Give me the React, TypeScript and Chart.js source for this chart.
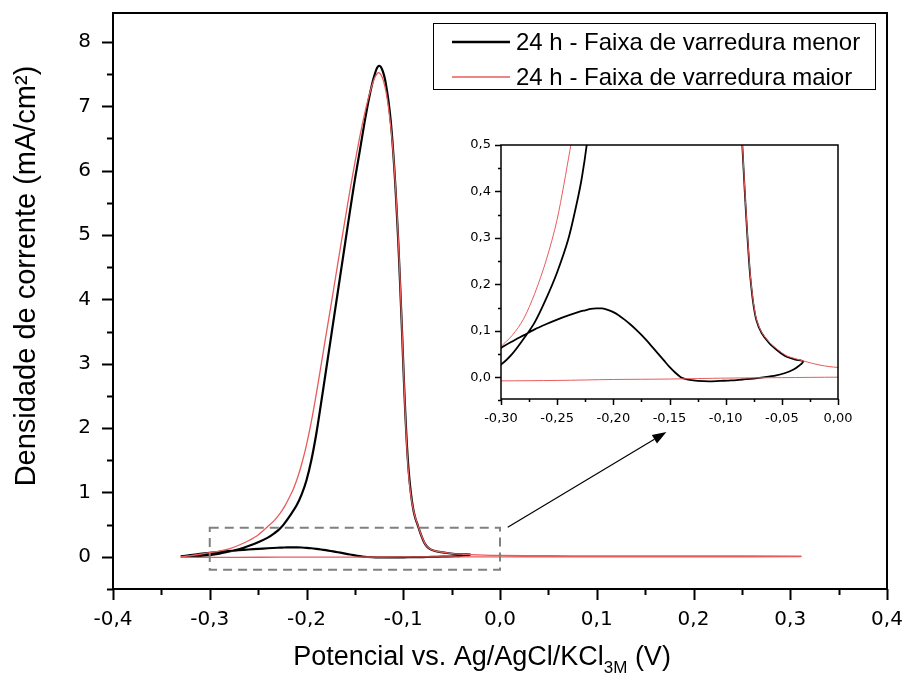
import React, { useEffect, useRef } from 'react';
import { Chart, registerables } from 'chart.js';

Chart.register(...registerables);

// ---------- Data ----------
const LABEL_MENOR = '24 h - Faixa de varredura menor';
const LABEL_MAIOR = '24 h - Faixa de varredura maior';

// Black curve (smaller sweep window): peak branch, then return branch (closed loop)
const blackX = [
  -0.330, -0.320, -0.310, -0.300, -0.290, -0.280, -0.270, -0.260, -0.250, -0.240,
  -0.2326, -0.228, -0.2237, -0.217, -0.2102, -0.205, -0.200, -0.195, -0.190, -0.185,
  -0.180, -0.175, -0.170, -0.165, -0.160, -0.155, -0.150, -0.145, -0.140, -0.136,
  -0.132, -0.129, -0.127, -0.125, -0.123, -0.121, -0.119, -0.117, -0.115, -0.113,
  -0.111, -0.109, -0.107, -0.105, -0.103, -0.101, -0.099, -0.0968, -0.0945, -0.0922,
  -0.0898, -0.0875, -0.0852, -0.083, -0.081, -0.0792, -0.0778, -0.0755, -0.0727, -0.068,
  -0.061, -0.053, -0.0457, -0.038, -0.031,
  -0.035, -0.040, -0.047, -0.055, -0.065, -0.075, -0.085, -0.095, -0.105, -0.115,
  -0.125, -0.132, -0.137, -0.140, -0.145, -0.150, -0.155, -0.160, -0.165, -0.170,
  -0.175, -0.180, -0.185, -0.190, -0.195, -0.200, -0.205, -0.210, -0.215, -0.220,
  -0.225, -0.230, -0.240, -0.250, -0.260, -0.270, -0.280, -0.290, -0.300, -0.310,
  -0.320, -0.330,
];
const blackY = [
  0.003, 0.008, 0.015, 0.027, 0.050, 0.082, 0.118, 0.168, 0.226, 0.298,
  0.374, 0.430, 0.50, 0.64, 0.80, 0.97, 1.19, 1.50, 1.90, 2.38,
  2.88, 3.38, 3.88, 4.38, 4.88, 5.38, 5.86, 6.30, 6.75, 7.08,
  7.36, 7.52, 7.60, 7.63, 7.61, 7.54, 7.43, 7.26, 7.05, 6.78,
  6.42, 5.98, 5.45, 4.85, 4.15, 3.40, 2.62, 1.90, 1.35, 1.00,
  0.75, 0.60, 0.50, 0.40, 0.317, 0.25, 0.209, 0.16, 0.123, 0.095,
  0.073, 0.056, 0.044, 0.038, 0.034,
  0.024, 0.016, 0.009, 0.004, 0.000, -0.003, -0.005, -0.007, -0.008, -0.009,
  -0.008, -0.006, -0.003, 0.000, 0.010, 0.022, 0.036, 0.050, 0.064, 0.078,
  0.091, 0.103, 0.114, 0.124, 0.133, 0.140, 0.145, 0.148, 0.148, 0.147,
  0.144, 0.141, 0.133, 0.124, 0.114, 0.103, 0.090, 0.077, 0.063, 0.046,
  0.026, 0.006,
];

// Red curve (larger sweep window)
const redX = [
  -0.330, -0.320, -0.310, -0.300, -0.290, -0.280, -0.270, -0.260, -0.250, -0.2386,
  -0.233, -0.2275, -0.222, -0.2175, -0.2137, -0.209, -0.2045, -0.200, -0.195, -0.190,
  -0.185, -0.180, -0.175, -0.170, -0.165, -0.160, -0.155, -0.150, -0.145, -0.140,
  -0.136, -0.132, -0.129, -0.126, -0.124, -0.122, -0.120, -0.118, -0.116, -0.114,
  -0.112, -0.110, -0.108, -0.106, -0.104, -0.102, -0.100, -0.098, -0.096, -0.094,
  -0.0918, -0.0895, -0.0873, -0.0851, -0.0829, -0.0809, -0.0791, -0.0777, -0.0754, -0.0726,
  -0.068, -0.061, -0.053, -0.0457, -0.038, -0.031, -0.016, 0.000, 0.050, 0.100,
  0.200, 0.311,
  0.311, 0.200, 0.100, 0.000, -0.050, -0.100, -0.150, -0.200, -0.250, -0.300, -0.330,
];
const redY = [
  0.000, 0.018, 0.040, 0.066, 0.090, 0.125, 0.180, 0.250, 0.340, 0.489,
  0.57, 0.67, 0.80, 0.93, 1.05, 1.24, 1.47, 1.74, 2.10, 2.52,
  2.97, 3.43, 3.88, 4.34, 4.80, 5.25, 5.70, 6.12, 6.52, 6.88,
  7.13, 7.34, 7.46, 7.52, 7.51, 7.46, 7.37, 7.24, 7.06, 6.83,
  6.55, 6.20, 5.75, 5.20, 4.55, 3.80, 3.02, 2.25, 1.62, 1.20,
  0.92, 0.73, 0.60, 0.50, 0.40, 0.318, 0.252, 0.21, 0.162, 0.125,
  0.097, 0.075, 0.058, 0.046, 0.040, 0.035, 0.026, 0.021, 0.017, 0.015,
  0.013, 0.012,
  0.002, 0.001, 0.000, 0.000, -0.001, -0.002, -0.004, -0.005, -0.007, -0.008, -0.008,
];

// Tick values
const mainXTicks = [-0.4, -0.3, -0.2, -0.1, 0.0, 0.1, 0.2, 0.3, 0.4];
const mainXMinor = [-0.35, -0.25, -0.15, -0.05, 0.05, 0.15, 0.25, 0.35];
const mainYTicks = [0, 1, 2, 3, 4, 5, 6, 7, 8];
const mainYMinor = [-0.5, 0.5, 1.5, 2.5, 3.5, 4.5, 5.5, 6.5, 7.5];
const insetXTicks = [-0.30, -0.25, -0.20, -0.15, -0.10, -0.05, 0.00];
const insetXMinor = [-0.275, -0.225, -0.175, -0.125, -0.075, -0.025];
const insetYTicks = [0.0, 0.1, 0.2, 0.3, 0.4, 0.5];
const insetYMinor = [-0.05, 0.05, 0.15, 0.25, 0.35, 0.45];

// Zoom window (data coords) and arrow (data coords)
const zoomBoxX = [-0.3, 0.0];
const zoomBoxY = [-0.2, 0.45];
const arrowFrom = [0.008, 0.46];
const arrowTo = [0.172, 1.94];

const BLACK = '#000000';
const RED = 'rgb(232, 92, 92)';

const toPts = (xs: number[], ys: number[]) => xs.map((x, i) => ({ x, y: ys[i] }));
const fmt = (v: number, d: number) => {
  const s = Math.abs(v) < 1e-9 ? (0).toFixed(d) : v.toFixed(d);
  return s.replace('.', ',');
};
const noPad = (s: any) => {
  s.paddingTop = 0;
  s.paddingBottom = 0;
  s.paddingLeft = 0;
  s.paddingRight = 0;
};

function drawTickMarks(ctx: CanvasRenderingContext2D, chart: any, o: any) {
  const { left, bottom } = chart.chartArea;
  const xs = chart.scales.x;
  const ys = chart.scales.y;
  ctx.save();
  ctx.strokeStyle = '#000';
  ctx.lineWidth = o.lw;
  ctx.beginPath();
  o.xMajor.forEach((v: number) => {
    const p = Math.round(xs.getPixelForValue(v)) + 0.5;
    ctx.moveTo(p, bottom);
    ctx.lineTo(p, bottom + o.majorLen);
  });
  o.xMinor.forEach((v: number) => {
    const p = Math.round(xs.getPixelForValue(v)) + 0.5;
    ctx.moveTo(p, bottom);
    ctx.lineTo(p, bottom + o.minorLen);
  });
  o.yMajor.forEach((v: number) => {
    const p = Math.round(ys.getPixelForValue(v)) + 0.5;
    ctx.moveTo(left, p);
    ctx.lineTo(left - o.majorLen, p);
  });
  o.yMinor.forEach((v: number) => {
    const p = Math.round(ys.getPixelForValue(v)) + 0.5;
    ctx.moveTo(left, p);
    ctx.lineTo(left - o.minorLen, p);
  });
  ctx.stroke();
  const ca = chart.chartArea;
  ctx.lineWidth = o.frameLw;
  ctx.strokeRect(ca.left, ca.top, ca.right - ca.left, ca.bottom - ca.top);
  ctx.restore();
}

const mainDecor = {
  id: 'mainDecor',
  afterDatasetsDraw(chart: any) {
    const ctx = chart.ctx as CanvasRenderingContext2D;
    const xs = chart.scales.x;
    const ys = chart.scales.y;
    const ca = chart.chartArea;
    // zoom box
    ctx.save();
    ctx.strokeStyle = '#808080';
    ctx.lineWidth = 2;
    ctx.setLineDash([9, 6]);
    const x0 = xs.getPixelForValue(zoomBoxX[0]);
    const x1 = xs.getPixelForValue(zoomBoxX[1]);
    const y0 = ys.getPixelForValue(zoomBoxY[1]);
    const y1 = ys.getPixelForValue(zoomBoxY[0]);
    ctx.strokeRect(x0, y0, x1 - x0, y1 - y0);
    ctx.restore();
    // arrow
    const ax0 = xs.getPixelForValue(arrowFrom[0]);
    const ay0 = ys.getPixelForValue(arrowFrom[1]);
    const ax1 = xs.getPixelForValue(arrowTo[0]);
    const ay1 = ys.getPixelForValue(arrowTo[1]);
    const ang = Math.atan2(ay1 - ay0, ax1 - ax0);
    const hl = 14, hw = 5;
    const bx = ax1 - hl * Math.cos(ang);
    const by = ay1 - hl * Math.sin(ang);
    ctx.save();
    ctx.strokeStyle = '#000';
    ctx.fillStyle = '#000';
    ctx.lineWidth = 1.2;
    ctx.beginPath();
    ctx.moveTo(ax0, ay0);
    ctx.lineTo(bx, by);
    ctx.stroke();
    ctx.beginPath();
    ctx.moveTo(ax1, ay1);
    ctx.lineTo(bx + hw * Math.sin(ang), by - hw * Math.cos(ang));
    ctx.lineTo(bx - hw * Math.sin(ang), by + hw * Math.cos(ang));
    ctx.closePath();
    ctx.fill();
    ctx.restore();

    drawTickMarks(ctx, chart, {
      xMajor: mainXTicks, xMinor: mainXMinor, yMajor: mainYTicks, yMinor: mainYMinor,
      majorLen: 11, minorLen: 6, lw: 2, frameLw: 2,
    });

    // legend
    const lx0 = ca.right - 454;
    const lx1 = ca.right - 12;
    const ly0 = ca.top + 10;
    const ly1 = ca.top + 76;
    ctx.save();
    ctx.fillStyle = '#fff';
    ctx.fillRect(lx0, ly0, lx1 - lx0, ly1 - ly0);
    ctx.strokeStyle = '#000';
    ctx.lineWidth = 1;
    ctx.strokeRect(Math.round(lx0) + 0.5, Math.round(ly0) + 0.5, lx1 - lx0, ly1 - ly0);
    const items = [
      { label: chart.data.datasets[1].label, color: BLACK, w: 2.6 },
      { label: chart.data.datasets[0].label, color: RED, w: 1.3 },
    ];
    ctx.font = '24px "Liberation Sans", Arial, sans-serif';
    ctx.textBaseline = 'middle';
    items.forEach((it, i) => {
      const yy = ly0 + 19 + i * 35;
      ctx.strokeStyle = it.color;
      ctx.lineWidth = it.w;
      ctx.beginPath();
      ctx.moveTo(lx0 + 19, yy);
      ctx.lineTo(lx0 + 77, yy);
      ctx.stroke();
      ctx.fillStyle = '#000';
      ctx.fillText(it.label, lx0 + 83, yy + 1);
    });
    ctx.restore();

    // axis titles
    ctx.save();
    ctx.fillStyle = '#000';
    const cx = (ca.left + ca.right) / 2 - 18;
    const mainPart = 'Potencial vs. Ag/AgCl/KCl';
    const subPart = '3M';
    const endPart = ' (V)';
    const bigFont = '27px "Liberation Sans", Arial, sans-serif';
    const subFont = '17px "Liberation Sans", Arial, sans-serif';
    ctx.font = bigFont;
    const w1 = ctx.measureText(mainPart).width;
    const w3 = ctx.measureText(endPart).width;
    ctx.font = subFont;
    const w2 = ctx.measureText(subPart).width;
    const total = w1 + w2 + w3;
    let sx = cx - total / 2;
    const base = ca.bottom + 76;
    ctx.textBaseline = 'alphabetic';
    ctx.textAlign = 'left';
    ctx.font = bigFont;
    ctx.fillText(mainPart, sx, base);
    sx += w1;
    ctx.font = subFont;
    ctx.fillText(subPart, sx, base + 8);
    sx += w2;
    ctx.font = bigFont;
    ctx.fillText(endPart, sx, base);

    ctx.translate(35, ca.top + 263);
    ctx.rotate(-Math.PI / 2);
    ctx.textAlign = 'center';
    ctx.font = '29px "Liberation Sans", Arial, sans-serif';
    ctx.fillText('Densidade de corrente (mA/cm\u00B2)', 0, 0);
    ctx.restore();
  },
};

const insetDecor = {
  id: 'insetDecor',
  afterDatasetsDraw(chart: any) {
    drawTickMarks(chart.ctx, chart, {
      xMajor: insetXTicks, xMinor: insetXMinor, yMajor: insetYTicks, yMinor: insetYMinor,
      majorLen: 6, minorLen: 3, lw: 1.5, frameLw: 1.5,
    });
  },
};

function makeDatasets(blackW: number, redW: number) {
  return [
    {
      label: LABEL_MAIOR,
      data: toPts(redX, redY),
      borderColor: RED,
      backgroundColor: RED,
      borderWidth: redW,
      showLine: true,
      pointRadius: 0,
      tension: 0.3,
      order: 0,
    },
    {
      label: LABEL_MENOR,
      data: toPts(blackX, blackY),
      borderColor: BLACK,
      backgroundColor: BLACK,
      borderWidth: blackW,
      showLine: true,
      pointRadius: 0,
      tension: 0.3,
      order: 1,
    },
  ];
}

function MainChart() {
  const ref = useRef<HTMLCanvasElement | null>(null);
  useEffect(() => {
    if (!ref.current) return;
    const chart = new Chart(ref.current, {
      type: 'scatter',
      data: { datasets: makeDatasets(2.2, 1.3) as any },
      options: {
        responsive: false,
        animation: false,
        events: [],
        layout: { padding: { left: 0, right: 20, top: 13, bottom: 0 } },
        plugins: { legend: { display: false }, tooltip: { enabled: false } },
        scales: {
          x: {
            type: 'linear',
            min: -0.4,
            max: 0.4,
            afterBuildTicks: (s: any) => { s.ticks = mainXTicks.map((v) => ({ value: v })); },
            afterFit: (s: any) => { s.height = 87; noPad(s); },
            grid: { display: false, drawTicks: false },
            border: { display: false },
            ticks: {
              autoSkip: false,
              maxRotation: 0,
              padding: 19,
              color: '#000',
              font: { family: 'DejaVu Sans', size: 20 },
              callback: (v: any) => fmt(Number(v), 1),
            },
          },
          y: {
            type: 'linear',
            min: -0.5,
            max: 8.45,
            afterBuildTicks: (s: any) => { s.ticks = mainYTicks.map((v) => ({ value: v })); },
            afterFit: (s: any) => { s.width = 113; noPad(s); },
            grid: { display: false, drawTicks: false },
            border: { display: false },
            ticks: {
              autoSkip: false,
              padding: 22,
              color: '#000',
              font: { family: 'DejaVu Sans', size: 20 },
              callback: (v: any) => String(Number(v)),
            },
          },
        },
      },
      plugins: [mainDecor],
    });
    return () => chart.destroy();
  }, []);
  return <canvas ref={ref} width={907} height={676} style={{ position: 'absolute', left: 0, top: 0 }} />;
}

function InsetChart() {
  const ref = useRef<HTMLCanvasElement | null>(null);
  useEffect(() => {
    if (!ref.current) return;
    const chart = new Chart(ref.current, {
      type: 'scatter',
      data: { datasets: makeDatasets(1.8, 1) as any },
      options: {
        responsive: false,
        animation: false,
        events: [],
        layout: { padding: { left: 0, right: 17, top: 15, bottom: 0 } },
        plugins: { legend: { display: false }, tooltip: { enabled: false } },
        scales: {
          x: {
            type: 'linear',
            min: -0.3,
            max: 0.0,
            afterBuildTicks: (s: any) => { s.ticks = insetXTicks.map((v) => ({ value: v })); },
            afterFit: (s: any) => { s.height = 31; noPad(s); },
            grid: { display: false, drawTicks: false },
            border: { display: false },
            ticks: {
              autoSkip: false,
              maxRotation: 0,
              padding: 12,
              color: '#000',
              font: { family: 'DejaVu Sans', size: 13 },
              callback: (v: any) => fmt(Number(v), 2),
            },
          },
          y: {
            type: 'linear',
            min: -0.047,
            max: 0.5,
            afterBuildTicks: (s: any) => { s.ticks = insetYTicks.map((v) => ({ value: v })); },
            afterFit: (s: any) => { s.width = 46; noPad(s); },
            grid: { display: false, drawTicks: false },
            border: { display: false },
            ticks: {
              autoSkip: false,
              padding: 10,
              color: '#000',
              font: { family: 'DejaVu Sans', size: 13 },
              callback: (v: any) => fmt(Number(v), 1),
            },
          },
        },
      },
      plugins: [insetDecor],
    });
    return () => chart.destroy();
  }, []);
  return <canvas ref={ref} width={400} height={300} style={{ position: 'absolute', left: 455, top: 130 }} />;
}

export default function App() {
  return (
    <div style={{ position: 'fixed', left: 0, top: 0, width: 907, height: 676, background: '#fff', overflow: 'hidden' }}>
      <MainChart />
      <InsetChart />
    </div>
  );
}
